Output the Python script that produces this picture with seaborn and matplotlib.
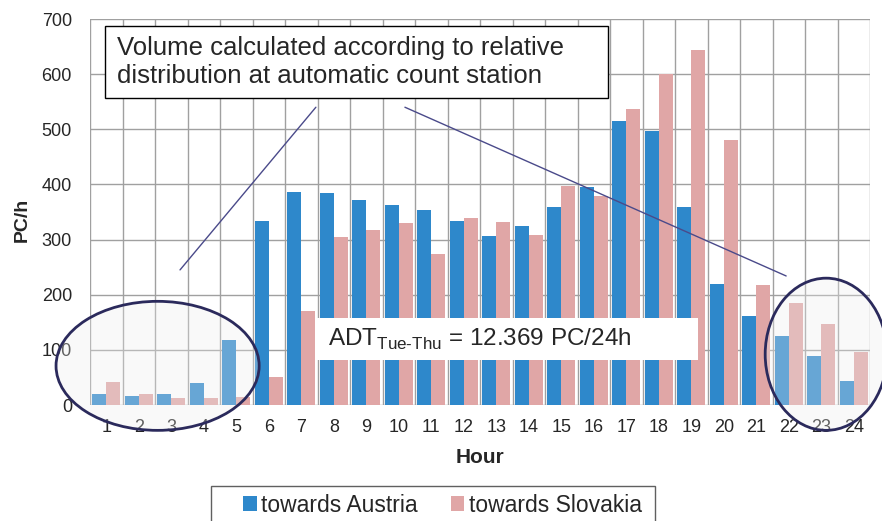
import pandas as pd
import numpy as np
import seaborn as sns
import matplotlib.pyplot as plt
from matplotlib.patches import Ellipse, Rectangle, Patch

hours = [str(h) for h in range(1, 25)]
towards_austria = [20, 16, 20, 39, 118, 333, 387, 385, 371, 362, 354, 334,
                   307, 325, 359, 396, 515, 496, 359, 220, 162, 126, 88, 44]
towards_slovakia = [42, 20, 13, 13, 15, 50, 171, 304, 318, 330, 274, 339,
                    332, 308, 397, 379, 537, 601, 643, 481, 218, 185, 146, 97]
series_names = ['towards Austria', 'towards Slovakia']
colors = ['#2E88CB', '#E0A6A6']

df = pd.DataFrame({
    'Hour': hours * 2,
    'PC/h': towards_austria + towards_slovakia,
    'direction': [series_names[0]] * 24 + [series_names[1]] * 24,
})

sns.set_style('white')
plt.rcParams['font.family'] = ['Liberation Sans', 'DejaVu Sans']
plt.rcParams['mathtext.fontset'] = 'custom'
plt.rcParams['mathtext.rm'] = 'Liberation Sans'
plt.rcParams['hatch.color'] = '#ffffff'

fig = plt.figure(figsize=(8.82, 5.21), dpi=100)
ax = fig.add_axes([90 / 882, 1 - 405 / 521, 780 / 882, 386 / 521])

sns.barplot(data=df, x='Hour', y='PC/h', hue='direction', order=hours,
            hue_order=series_names, palette=colors, saturation=1,
            width=0.86, gap=0, linewidth=0, legend=False, ax=ax, zorder=2)

ax.set_xlim(-0.5, 23.5)
ax.set_ylim(0, 700)
ax.set_yticks(range(0, 701, 100))
ax.set_xticks(np.arange(-0.5, 24, 1), minor=True)
ax.grid(axis='y', which='major', color='#a0a0a0', lw=1, zorder=0)
ax.grid(axis='x', which='minor', color='#a0a0a0', lw=1, zorder=0)
ax.set_axisbelow(True)
for s in ax.spines.values():
    s.set_visible(False)
ax.tick_params(axis='both', which='both', length=0, labelsize=13)
ax.tick_params(axis='x', pad=10)
ax.tick_params(axis='y', pad=13)

ax.set_xlabel('Hour', fontsize=15, fontweight='bold', va='top')
ax.xaxis.set_label_coords(0.5, -0.112)
ax.set_ylabel('PC/h', fontsize=14, fontweight='bold', va='center')
ax.yaxis.set_label_coords(-0.087, 0.48)

# callout lines
ax.plot([2.27, 6.45], [245, 540], color='#4a4a8a', lw=1, zorder=3, clip_on=False)
ax.plot([9.19, 20.92], [540, 234], color='#4a4a8a', lw=1, zorder=3, clip_on=False)

# ellipses around low-volume hours
for cx, cy, w, h in [(1.58, 71, 6.25, 234), (22.15, 92, 3.75, 276)]:
    ax.add_patch(Ellipse((cx, cy), w, h, facecolor=(0.93, 0.93, 0.93, 0.3),
                         edgecolor='none', zorder=4, clip_on=False, lw=0))
    ax.add_patch(Ellipse((cx, cy), w, h, facecolor='none',
                         edgecolor='#2B2A5C', lw=2, zorder=4, clip_on=False))

# text boxes
fig.patches.append(Rectangle((105 / 882, 1 - 98 / 521), 503 / 882, 72 / 521,
                             transform=fig.transFigure, facecolor='white',
                             edgecolor='black', lw=1, zorder=5))
fig.text(117 / 882, 1 - 62 / 521,
         'Volume calculated according to relative\ndistribution at automatic count station',
         fontsize=18.5, va='center', ha='left', linespacing=1.22, zorder=6)

fig.patches.append(Rectangle((315 / 882, 1 - 360 / 521), 383 / 882, 42 / 521,
                             transform=fig.transFigure, facecolor='white',
                             edgecolor='none', zorder=5))
fig.text(328 / 882, 1 - 346 / 521, r'ADT$_{\text{Tue-Thu}}$ = 12.369 PC/24h',
         fontsize=17.5, va='baseline', ha='left', zorder=6)

# legend
fig.patches.append(Rectangle((211 / 882, -0.05), 444 / 882, 0.05 + 35 / 521,
                             transform=fig.transFigure, facecolor='white',
                             edgecolor='#606060', lw=1, zorder=5))
handles = [Patch(facecolor=c, edgecolor='none') for c in colors]
fig.legend(handles, series_names, loc='center left', ncol=2,
           bbox_to_anchor=(243 / 882, 1 - 505 / 521), frameon=False,
           fontsize=16.5, handlelength=0.6, handleheight=0.6,
           handletextpad=0.18, columnspacing=1.45, borderpad=0, borderaxespad=0)

fig.savefig('out.png', dpi=100)
